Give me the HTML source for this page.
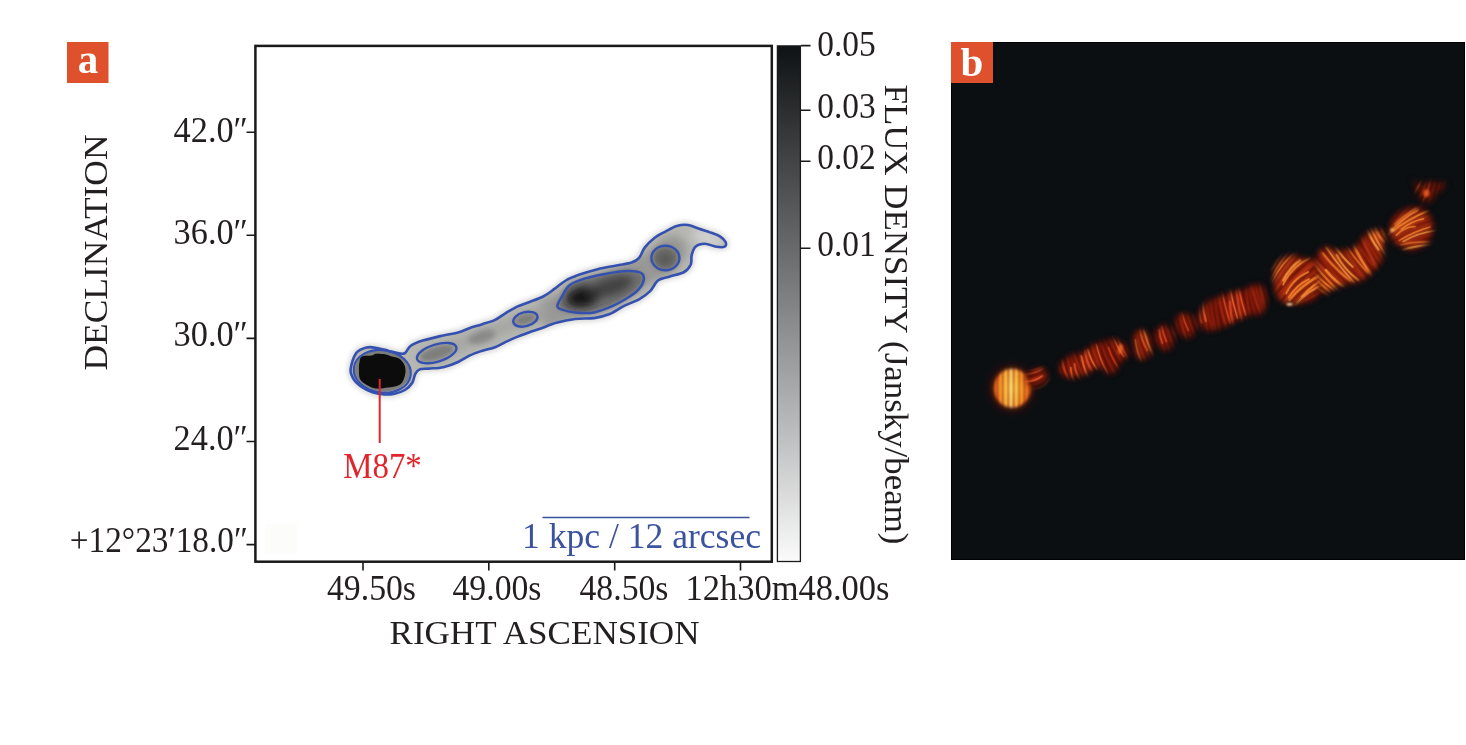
<!DOCTYPE html>
<html lang="en"><head><meta charset="utf-8"><title>M87 jet: flux density map and polarization image</title>
<style>html,body{margin:0;padding:0;background:#fff}body{width:1466px;height:745px;overflow:hidden}svg{display:block}</style>
</head><body>
<svg width="1466" height="745" viewBox="0 0 1466 745">
<defs>
<filter id="b1" x="-20%" y="-20%" width="140%" height="140%"><feGaussianBlur stdDeviation="1.2"/></filter>
<filter id="b2" x="-20%" y="-20%" width="140%" height="140%"><feGaussianBlur stdDeviation="2.5"/></filter>
<filter id="b3" x="-30%" y="-30%" width="160%" height="160%"><feGaussianBlur stdDeviation="4"/></filter>
<filter id="b5" x="-30%" y="-30%" width="160%" height="160%"><feGaussianBlur stdDeviation="6"/></filter>
<filter id="j1" x="-30%" y="-30%" width="160%" height="160%"><feGaussianBlur stdDeviation="0.8"/></filter>
<filter id="j06" x="-30%" y="-30%" width="160%" height="160%"><feGaussianBlur stdDeviation="0.55"/></filter>
<filter id="j15" x="-30%" y="-30%" width="160%" height="160%"><feGaussianBlur stdDeviation="1.1"/></filter>
<filter id="j25" x="-30%" y="-30%" width="160%" height="160%"><feGaussianBlur stdDeviation="3.0"/></filter>
<filter id="j2" x="-30%" y="-30%" width="160%" height="160%"><feGaussianBlur stdDeviation="1.6"/></filter>
<filter id="j3" x="-30%" y="-30%" width="160%" height="160%"><feGaussianBlur stdDeviation="3"/></filter>
<filter id="j5" x="-40%" y="-40%" width="180%" height="180%"><feGaussianBlur stdDeviation="5"/></filter>
<linearGradient id="cb" x1="0" y1="0" x2="0" y2="1"><stop offset="0" stop-color="#0f1214"/><stop offset="0.4" stop-color="#6a6b6c"/><stop offset="0.75" stop-color="#bcbdbe"/><stop offset="1" stop-color="#fbfbfb"/></linearGradient>
<radialGradient id="core" cx="0.5" cy="0.5" r="0.5"><stop offset="0" stop-color="#ffe060"/><stop offset="0.35" stop-color="#f79a1c"/><stop offset="0.7" stop-color="#e2601a"/><stop offset="1" stop-color="#b8300f"/></radialGradient>
<radialGradient id="coreg" cx="0.5" cy="0.5" r="0.5"><stop offset="0" stop-color="#ffc640"/><stop offset="0.35" stop-color="#f48c20"/><stop offset="0.7" stop-color="#d8501a"/><stop offset="1" stop-color="#8c200c"/></radialGradient>
<mask id="mc" maskUnits="userSpaceOnUse" x="980" y="355" width="66" height="66"><ellipse cx="1012.2" cy="388.3" rx="18.5" ry="19.5" fill="#fff" filter="url(#j2)"/></mask>
<mask id="mj0" maskUnits="userSpaceOnUse" x="1017" y="358" width="40" height="37"><path d="M1045.9 373.4C1046.3 374.5 1047.0 375.9 1046.7 377.4C1046.4 378.8 1045.4 380.7 1044.1 382.0C1042.8 383.3 1040.5 384.4 1038.8 385.0C1037.0 385.6 1035.3 385.8 1033.7 385.5C1032.1 385.3 1030.4 383.9 1029.4 383.3C1028.4 382.6 1028.0 382.8 1027.6 381.6C1027.1 380.4 1026.3 377.4 1026.8 376.1C1027.2 374.7 1029.0 374.7 1030.3 373.7C1031.6 372.6 1032.8 370.7 1034.4 369.8C1036.1 368.9 1038.6 368.2 1040.3 368.3C1042.0 368.4 1043.5 369.5 1044.5 370.4C1045.4 371.2 1045.5 372.2 1045.9 373.4Z" fill="#fff" filter="url(#j25)"/></mask>
<mask id="mj1" maskUnits="userSpaceOnUse" x="1050" y="330" width="89" height="57"><path d="M1059.6 371.7C1058.6 369.2 1060.8 364.5 1063.0 361.8C1065.2 359.1 1069.3 356.9 1072.8 355.4C1076.2 354.0 1080.7 354.6 1083.8 353.1C1086.9 351.6 1088.5 348.0 1091.5 346.3C1094.4 344.6 1098.0 344.0 1101.4 343.0C1104.9 342.0 1108.5 340.0 1112.0 340.2C1115.5 340.3 1119.8 342.1 1122.5 344.0C1125.2 345.8 1127.9 349.1 1128.2 351.4C1128.6 353.8 1126.4 356.1 1124.7 358.0C1123.0 359.9 1119.6 360.8 1118.3 362.8C1117.0 364.7 1118.3 367.8 1116.8 369.6C1115.3 371.4 1111.7 373.9 1109.4 373.5C1107.1 373.2 1105.2 368.6 1103.0 367.5C1100.8 366.4 1098.8 366.1 1096.2 367.0C1093.7 367.9 1090.6 371.5 1087.4 373.0C1084.2 374.5 1080.1 375.5 1077.0 376.2C1073.9 376.8 1071.7 377.6 1068.8 376.9C1066.0 376.2 1060.6 374.2 1059.6 371.7Z" fill="#fff" filter="url(#j25)"/></mask>
<mask id="mj2" maskUnits="userSpaceOnUse" x="1123" y="321" width="37" height="48"><path d="M1150.5 344.2C1150.8 346.7 1151.1 348.9 1150.8 350.8C1150.5 352.6 1149.7 354.2 1148.7 355.4C1147.7 356.7 1146.3 357.9 1144.7 358.5C1143.1 359.0 1140.7 359.5 1139.2 358.6C1137.7 357.7 1136.4 355.2 1135.6 353.2C1134.8 351.2 1134.8 348.8 1134.5 346.4C1134.1 344.0 1133.2 341.0 1133.4 338.9C1133.7 336.8 1135.2 335.1 1136.1 333.7C1137.0 332.3 1137.6 331.0 1138.9 330.6C1140.2 330.2 1142.1 330.2 1143.7 331.1C1145.4 332.1 1147.7 334.2 1148.8 336.4C1150.0 338.6 1150.1 341.8 1150.5 344.2Z" fill="#fff" filter="url(#j25)"/></mask>
<mask id="mj3" maskUnits="userSpaceOnUse" x="1145" y="315" width="38" height="45"><path d="M1173.6 335.7C1173.8 337.5 1172.7 339.7 1172.4 341.6C1172.0 343.4 1172.4 345.4 1171.3 346.8C1170.3 348.3 1167.5 349.8 1166.1 350.2C1164.8 350.6 1164.6 350.4 1163.2 349.4C1161.8 348.3 1159.1 345.7 1157.8 344.0C1156.5 342.4 1155.8 341.4 1155.5 339.4C1155.2 337.4 1155.5 333.6 1156.1 331.9C1156.6 330.1 1157.5 329.9 1158.8 328.7C1160.0 327.5 1162.3 325.2 1163.6 324.9C1164.9 324.7 1165.4 326.3 1166.7 327.2C1168.0 328.1 1170.3 329.1 1171.5 330.5C1172.6 331.9 1173.5 333.8 1173.6 335.7Z" fill="#fff" filter="url(#j25)"/></mask>
<mask id="mj4" maskUnits="userSpaceOnUse" x="1166" y="305" width="39" height="43"><path d="M1194.6 324.1C1195.1 326.0 1194.7 327.4 1194.4 329.2C1194.1 331.1 1193.8 333.8 1192.7 335.1C1191.6 336.5 1189.3 337.1 1187.9 337.2C1186.4 337.4 1185.4 337.1 1183.9 336.2C1182.5 335.4 1180.5 333.8 1179.1 332.1C1177.8 330.5 1176.5 328.0 1176.0 326.3C1175.5 324.5 1175.5 323.5 1176.0 321.7C1176.5 319.9 1177.7 316.8 1178.8 315.6C1179.8 314.4 1180.8 314.8 1182.5 314.6C1184.2 314.5 1187.4 314.4 1188.9 314.8C1190.5 315.3 1190.8 315.8 1191.8 317.4C1192.7 318.9 1194.2 322.1 1194.6 324.1Z" fill="#fff" filter="url(#j25)"/></mask>
<mask id="mj5" maskUnits="userSpaceOnUse" x="1188" y="275" width="88" height="65"><path d="M1198.2 318.1C1198.8 315.0 1201.6 309.4 1203.8 306.4C1206.1 303.4 1208.9 301.8 1212.0 300.2C1215.0 298.6 1218.6 298.0 1221.9 296.7C1225.3 295.5 1228.6 293.7 1232.1 292.7C1235.7 291.7 1240.4 291.6 1243.1 290.8C1245.8 290.1 1246.1 289.1 1248.3 288.2C1250.4 287.3 1253.6 285.5 1256.0 285.4C1258.4 285.2 1260.9 285.2 1262.5 287.2C1264.2 289.2 1265.8 293.7 1266.1 297.3C1266.4 300.9 1265.4 306.0 1264.2 308.7C1262.9 311.5 1261.0 313.0 1258.6 313.9C1256.1 314.8 1251.9 313.5 1249.3 314.0C1246.8 314.6 1245.8 316.1 1243.4 317.2C1240.9 318.3 1237.5 319.5 1234.7 320.7C1231.8 322.0 1229.4 323.7 1226.5 325.0C1223.6 326.3 1220.5 327.8 1217.4 328.6C1214.4 329.5 1211.1 330.5 1208.2 330.0C1205.3 329.4 1201.8 327.3 1200.2 325.3C1198.5 323.3 1197.6 321.3 1198.2 318.1Z" fill="#fff" filter="url(#j25)"/></mask>
<mask id="mj6" maskUnits="userSpaceOnUse" x="1264" y="247" width="66" height="66"><path d="M1274.4 271.3C1275.0 267.5 1276.6 264.7 1279.0 262.3C1281.3 259.9 1285.7 257.7 1288.4 256.8C1291.1 255.9 1292.3 256.2 1295.1 256.7C1297.8 257.1 1302.0 259.1 1304.8 259.6C1307.6 260.1 1309.7 259.0 1311.7 259.8C1313.7 260.7 1315.4 261.7 1316.8 264.5C1318.1 267.4 1319.2 272.9 1319.9 276.8C1320.5 280.8 1321.4 284.9 1320.7 288.3C1320.0 291.8 1318.3 295.3 1315.7 297.6C1313.0 299.9 1309.5 301.4 1304.8 302.2C1300.2 303.0 1292.0 303.3 1287.5 302.4C1283.1 301.5 1280.2 299.7 1278.2 296.9C1276.1 294.0 1276.0 289.5 1275.3 285.2C1274.7 281.0 1273.7 275.2 1274.4 271.3Z" fill="#fff" filter="url(#j25)"/></mask>
<mask id="mj7" maskUnits="userSpaceOnUse" x="1307" y="220" width="87" height="83"><path d="M1316.7 260.9C1317.4 255.9 1320.8 250.6 1322.8 248.6C1324.9 246.5 1326.7 248.2 1328.8 248.6C1331.0 249.1 1332.6 250.7 1335.6 251.1C1338.7 251.4 1343.8 251.1 1347.2 250.6C1350.5 250.1 1353.5 249.9 1355.8 248.2C1358.1 246.6 1358.8 243.4 1361.0 240.9C1363.3 238.4 1366.1 234.8 1369.3 233.0C1372.5 231.2 1377.8 229.8 1380.2 230.2C1382.7 230.6 1383.7 232.1 1384.1 235.2C1384.5 238.4 1383.1 244.7 1382.5 249.0C1381.9 253.4 1381.9 258.0 1380.3 261.5C1378.7 265.0 1375.9 267.2 1372.7 270.2C1369.5 273.2 1365.6 277.6 1361.3 279.7C1357.0 281.8 1352.0 281.2 1347.1 282.8C1342.1 284.4 1335.7 287.5 1331.5 289.1C1327.4 290.8 1324.3 294.6 1322.3 292.8C1320.2 291.1 1319.8 283.9 1318.9 278.5C1318.0 273.2 1316.1 265.9 1316.7 260.9Z" fill="#fff" filter="url(#j25)"/></mask>
<mask id="mj8" maskUnits="userSpaceOnUse" x="1381" y="198" width="61" height="62"><path d="M1390.5 229.1C1390.7 225.9 1391.3 222.3 1393.1 219.4C1394.9 216.5 1398.1 213.7 1401.6 211.8C1405.0 209.9 1410.1 208.2 1413.9 208.1C1417.7 207.9 1421.7 208.8 1424.6 211.0C1427.6 213.2 1430.3 217.8 1431.5 221.1C1432.7 224.4 1432.5 227.6 1431.9 230.9C1431.4 234.2 1430.0 238.4 1428.1 241.1C1426.2 243.8 1423.6 245.7 1420.6 247.2C1417.5 248.7 1413.3 250.5 1409.9 250.1C1406.5 249.7 1403.1 246.8 1400.1 244.9C1397.2 243.0 1393.9 241.3 1392.3 238.6C1390.7 236.0 1390.4 232.3 1390.5 229.1Z" fill="#fff" filter="url(#j25)"/></mask>
<mask id="mj9" maskUnits="userSpaceOnUse" x="1403" y="170" width="54" height="42"><path d="M1412.6 180.1C1412.7 179.1 1416.0 183.6 1418.0 184.4C1420.0 185.1 1422.8 184.7 1424.6 184.5C1426.4 184.2 1426.6 182.9 1428.9 182.8C1431.2 182.6 1435.6 183.2 1438.5 183.4C1441.5 183.6 1446.1 182.9 1446.5 183.9C1447.0 184.8 1443.3 187.4 1441.4 189.1C1439.5 190.8 1437.0 192.1 1435.4 194.0C1433.8 195.9 1433.1 199.2 1431.6 200.5C1430.1 201.9 1428.3 202.8 1426.4 202.3C1424.6 201.7 1422.0 199.6 1420.5 197.5C1418.9 195.4 1418.4 192.8 1417.1 189.9C1415.8 187.0 1412.4 181.0 1412.6 180.1Z" fill="#fff" filter="url(#j25)"/></mask><clipPath id="pb"><rect x="951" y="42" width="514" height="518"/></clipPath>
<clipPath id="oc"><path d="M350.6 369.4C351.0 365.0 353.5 356.8 356.2 353.1C358.9 349.5 363.2 348.4 366.6 347.5C370.1 346.6 373.2 347.4 376.9 348.0C380.6 348.6 385.0 350.0 388.7 350.9C392.4 351.8 396.3 353.0 399.0 353.4C401.7 353.8 402.9 354.4 404.9 353.1C406.9 351.8 407.8 347.9 410.8 345.8C413.8 343.7 417.3 342.3 422.7 340.6C428.1 338.9 437.4 336.8 443.3 335.4C449.2 334.0 453.7 333.7 458.1 332.5C462.5 331.3 466.0 329.4 469.9 328.0C473.8 326.6 477.5 325.8 481.7 324.4C485.9 323.0 491.1 321.8 495.0 319.9C498.9 318.0 501.6 315.5 505.3 313.3C509.0 311.1 513.2 308.5 517.1 306.6C521.0 304.8 524.5 303.9 528.9 302.2C533.2 300.5 538.9 298.7 543.2 296.5C547.5 294.3 550.7 291.6 554.5 288.9C558.3 286.2 561.7 282.9 565.8 280.5C569.9 278.1 573.6 276.7 578.9 274.8C584.2 272.9 591.4 270.8 597.7 269.2C604.0 267.6 610.9 266.6 616.5 265.5C622.1 264.4 627.8 263.9 631.6 262.6C635.4 261.3 636.9 260.4 639.1 257.9C641.3 255.4 642.2 250.9 644.7 247.6C647.2 244.3 650.7 240.9 654.1 238.2C657.5 235.5 661.6 233.6 665.4 231.6C669.2 229.6 672.9 227.1 676.7 226.0C680.5 224.9 684.2 224.5 688.0 225.0C691.8 225.5 695.5 227.5 699.2 228.8C703.0 230.1 707.0 231.3 710.5 232.6C714.0 233.8 717.4 234.7 719.9 236.3C722.4 237.9 724.8 240.3 725.6 242.0C726.4 243.7 726.2 245.9 724.6 246.7C723.0 247.5 719.5 247.2 716.2 246.7C712.9 246.2 708.4 243.8 704.9 243.8C701.4 243.8 697.7 244.8 695.5 246.7C693.3 248.6 692.5 252.1 691.7 255.1C690.9 258.1 692.0 261.7 690.8 264.5C689.5 267.3 687.8 270.0 684.2 272.0C680.6 274.0 673.6 275.3 669.2 276.7C664.8 278.1 661.0 278.1 657.9 280.5C654.8 282.9 653.5 287.7 650.4 290.8C647.3 293.9 643.5 296.8 639.1 299.3C634.7 301.8 629.1 303.4 624.1 305.9C619.1 308.4 614.0 312.3 609.0 314.3C604.0 316.3 599.6 317.3 594.0 318.1C588.4 318.9 581.5 318.2 575.2 319.0C568.9 319.8 562.3 321.2 556.4 322.8C550.5 324.4 544.6 327.2 540.0 328.8C535.4 330.4 532.7 331.1 528.9 332.5C525.1 333.9 521.0 335.3 517.1 336.9C513.2 338.5 509.0 340.4 505.3 342.1C501.6 343.8 498.9 345.7 495.0 347.2C491.1 348.7 485.9 349.5 481.7 350.9C477.5 352.3 473.8 353.5 469.9 355.4C466.0 357.2 462.5 360.0 458.1 362.0C453.7 364.0 448.2 366.1 443.3 367.2C438.4 368.3 432.5 368.2 428.6 368.6C424.7 369.0 421.9 368.5 419.7 369.4C417.5 370.3 416.5 371.6 415.3 373.8C414.1 376.0 414.0 380.0 412.3 382.7C410.6 385.4 407.8 388.2 404.9 390.0C401.9 391.8 398.0 392.9 394.6 393.7C391.2 394.4 388.0 394.7 384.3 394.5C380.6 394.3 376.2 393.5 372.5 392.3C368.8 391.1 365.2 389.2 362.1 387.1C359.0 385.0 355.9 382.6 354.0 379.7C352.1 376.8 350.2 373.8 350.6 369.4Z"/></clipPath>
<clipPath id="pa"><rect x="256" y="46" width="515" height="515"/></clipPath>
</defs>
<rect width="1466" height="745" fill="#fff"/>
<rect x="265" y="524" width="32" height="30" fill="#fcfcfb"/>
<g clip-path="url(#pa)">
<path d="M350.6 369.4C351.0 365.0 353.5 356.8 356.2 353.1C358.9 349.5 363.2 348.4 366.6 347.5C370.1 346.6 373.2 347.4 376.9 348.0C380.6 348.6 385.0 350.0 388.7 350.9C392.4 351.8 396.3 353.0 399.0 353.4C401.7 353.8 402.9 354.4 404.9 353.1C406.9 351.8 407.8 347.9 410.8 345.8C413.8 343.7 417.3 342.3 422.7 340.6C428.1 338.9 437.4 336.8 443.3 335.4C449.2 334.0 453.7 333.7 458.1 332.5C462.5 331.3 466.0 329.4 469.9 328.0C473.8 326.6 477.5 325.8 481.7 324.4C485.9 323.0 491.1 321.8 495.0 319.9C498.9 318.0 501.6 315.5 505.3 313.3C509.0 311.1 513.2 308.5 517.1 306.6C521.0 304.8 524.5 303.9 528.9 302.2C533.2 300.5 538.9 298.7 543.2 296.5C547.5 294.3 550.7 291.6 554.5 288.9C558.3 286.2 561.7 282.9 565.8 280.5C569.9 278.1 573.6 276.7 578.9 274.8C584.2 272.9 591.4 270.8 597.7 269.2C604.0 267.6 610.9 266.6 616.5 265.5C622.1 264.4 627.8 263.9 631.6 262.6C635.4 261.3 636.9 260.4 639.1 257.9C641.3 255.4 642.2 250.9 644.7 247.6C647.2 244.3 650.7 240.9 654.1 238.2C657.5 235.5 661.6 233.6 665.4 231.6C669.2 229.6 672.9 227.1 676.7 226.0C680.5 224.9 684.2 224.5 688.0 225.0C691.8 225.5 695.5 227.5 699.2 228.8C703.0 230.1 707.0 231.3 710.5 232.6C714.0 233.8 717.4 234.7 719.9 236.3C722.4 237.9 724.8 240.3 725.6 242.0C726.4 243.7 726.2 245.9 724.6 246.7C723.0 247.5 719.5 247.2 716.2 246.7C712.9 246.2 708.4 243.8 704.9 243.8C701.4 243.8 697.7 244.8 695.5 246.7C693.3 248.6 692.5 252.1 691.7 255.1C690.9 258.1 692.0 261.7 690.8 264.5C689.5 267.3 687.8 270.0 684.2 272.0C680.6 274.0 673.6 275.3 669.2 276.7C664.8 278.1 661.0 278.1 657.9 280.5C654.8 282.9 653.5 287.7 650.4 290.8C647.3 293.9 643.5 296.8 639.1 299.3C634.7 301.8 629.1 303.4 624.1 305.9C619.1 308.4 614.0 312.3 609.0 314.3C604.0 316.3 599.6 317.3 594.0 318.1C588.4 318.9 581.5 318.2 575.2 319.0C568.9 319.8 562.3 321.2 556.4 322.8C550.5 324.4 544.6 327.2 540.0 328.8C535.4 330.4 532.7 331.1 528.9 332.5C525.1 333.9 521.0 335.3 517.1 336.9C513.2 338.5 509.0 340.4 505.3 342.1C501.6 343.8 498.9 345.7 495.0 347.2C491.1 348.7 485.9 349.5 481.7 350.9C477.5 352.3 473.8 353.5 469.9 355.4C466.0 357.2 462.5 360.0 458.1 362.0C453.7 364.0 448.2 366.1 443.3 367.2C438.4 368.3 432.5 368.2 428.6 368.6C424.7 369.0 421.9 368.5 419.7 369.4C417.5 370.3 416.5 371.6 415.3 373.8C414.1 376.0 414.0 380.0 412.3 382.7C410.6 385.4 407.8 388.2 404.9 390.0C401.9 391.8 398.0 392.9 394.6 393.7C391.2 394.4 388.0 394.7 384.3 394.5C380.6 394.3 376.2 393.5 372.5 392.3C368.8 391.1 365.2 389.2 362.1 387.1C359.0 385.0 355.9 382.6 354.0 379.7C352.1 376.8 350.2 373.8 350.6 369.4Z" fill="#d4d4d2" stroke="#d4d4d2" stroke-width="7" filter="url(#b2)" opacity="0.85"/>
<path d="M350.6 369.4C351.0 365.0 353.5 356.8 356.2 353.1C358.9 349.5 363.2 348.4 366.6 347.5C370.1 346.6 373.2 347.4 376.9 348.0C380.6 348.6 385.0 350.0 388.7 350.9C392.4 351.8 396.3 353.0 399.0 353.4C401.7 353.8 402.9 354.4 404.9 353.1C406.9 351.8 407.8 347.9 410.8 345.8C413.8 343.7 417.3 342.3 422.7 340.6C428.1 338.9 437.4 336.8 443.3 335.4C449.2 334.0 453.7 333.7 458.1 332.5C462.5 331.3 466.0 329.4 469.9 328.0C473.8 326.6 477.5 325.8 481.7 324.4C485.9 323.0 491.1 321.8 495.0 319.9C498.9 318.0 501.6 315.5 505.3 313.3C509.0 311.1 513.2 308.5 517.1 306.6C521.0 304.8 524.5 303.9 528.9 302.2C533.2 300.5 538.9 298.7 543.2 296.5C547.5 294.3 550.7 291.6 554.5 288.9C558.3 286.2 561.7 282.9 565.8 280.5C569.9 278.1 573.6 276.7 578.9 274.8C584.2 272.9 591.4 270.8 597.7 269.2C604.0 267.6 610.9 266.6 616.5 265.5C622.1 264.4 627.8 263.9 631.6 262.6C635.4 261.3 636.9 260.4 639.1 257.9C641.3 255.4 642.2 250.9 644.7 247.6C647.2 244.3 650.7 240.9 654.1 238.2C657.5 235.5 661.6 233.6 665.4 231.6C669.2 229.6 672.9 227.1 676.7 226.0C680.5 224.9 684.2 224.5 688.0 225.0C691.8 225.5 695.5 227.5 699.2 228.8C703.0 230.1 707.0 231.3 710.5 232.6C714.0 233.8 717.4 234.7 719.9 236.3C722.4 237.9 724.8 240.3 725.6 242.0C726.4 243.7 726.2 245.9 724.6 246.7C723.0 247.5 719.5 247.2 716.2 246.7C712.9 246.2 708.4 243.8 704.9 243.8C701.4 243.8 697.7 244.8 695.5 246.7C693.3 248.6 692.5 252.1 691.7 255.1C690.9 258.1 692.0 261.7 690.8 264.5C689.5 267.3 687.8 270.0 684.2 272.0C680.6 274.0 673.6 275.3 669.2 276.7C664.8 278.1 661.0 278.1 657.9 280.5C654.8 282.9 653.5 287.7 650.4 290.8C647.3 293.9 643.5 296.8 639.1 299.3C634.7 301.8 629.1 303.4 624.1 305.9C619.1 308.4 614.0 312.3 609.0 314.3C604.0 316.3 599.6 317.3 594.0 318.1C588.4 318.9 581.5 318.2 575.2 319.0C568.9 319.8 562.3 321.2 556.4 322.8C550.5 324.4 544.6 327.2 540.0 328.8C535.4 330.4 532.7 331.1 528.9 332.5C525.1 333.9 521.0 335.3 517.1 336.9C513.2 338.5 509.0 340.4 505.3 342.1C501.6 343.8 498.9 345.7 495.0 347.2C491.1 348.7 485.9 349.5 481.7 350.9C477.5 352.3 473.8 353.5 469.9 355.4C466.0 357.2 462.5 360.0 458.1 362.0C453.7 364.0 448.2 366.1 443.3 367.2C438.4 368.3 432.5 368.2 428.6 368.6C424.7 369.0 421.9 368.5 419.7 369.4C417.5 370.3 416.5 371.6 415.3 373.8C414.1 376.0 414.0 380.0 412.3 382.7C410.6 385.4 407.8 388.2 404.9 390.0C401.9 391.8 398.0 392.9 394.6 393.7C391.2 394.4 388.0 394.7 384.3 394.5C380.6 394.3 376.2 393.5 372.5 392.3C368.8 391.1 365.2 389.2 362.1 387.1C359.0 385.0 355.9 382.6 354.0 379.7C352.1 376.8 350.2 373.8 350.6 369.4Z" fill="#b7b7b3"/>
<g clip-path="url(#oc)">
<g filter="url(#b3)">
<path d="M552 312L600 292L660 262L672 250" stroke="#8e8e8c" stroke-width="30" stroke-linecap="round" stroke-linejoin="round" fill="none" opacity="0.75"/>
<path d="M425 358L540 313" stroke="#a2a2a0" stroke-width="14" stroke-linecap="round" fill="none" opacity="0.8"/>
<ellipse cx="708" cy="238" rx="16" ry="9" transform="rotate(20 708 238)" fill="#d2d2d0" opacity="0.9"/>
</g>
<g filter="url(#b2)">
<ellipse cx="436.7" cy="353.1" rx="18.5" ry="7" transform="rotate(-17 436.7 353.1)" fill="#7e7e7c"/>
<ellipse cx="481.7" cy="336.9" rx="14" ry="6" transform="rotate(-17 481.7 336.9)" fill="#8a8a88"/>
<ellipse cx="525.4" cy="319.2" rx="11.5" ry="6" transform="rotate(-15 525.4 319.2)" fill="#7e7e7c"/>
<path d="M557.3 305.9C557.3 303.7 560.0 299.9 562.0 296.5C564.0 293.1 565.7 288.2 569.5 285.2C573.3 282.2 578.6 280.5 584.6 278.6C590.6 276.7 598.1 275.1 605.3 273.9C612.5 272.6 621.8 271.2 627.8 271.1C633.8 271.0 638.3 271.6 641.0 273.0C643.7 274.4 644.1 276.9 643.8 279.5C643.5 282.1 641.5 286.1 639.1 288.9C636.8 291.7 634.1 293.7 629.7 296.5C625.3 299.3 618.8 303.2 612.8 305.9C606.8 308.5 600.3 311.3 594.0 312.4C587.7 313.5 580.5 312.9 575.2 312.4C569.9 311.9 565.0 310.7 562.0 309.6C559.0 308.5 557.3 308.1 557.3 305.9Z" fill="#707070"/>
<ellipse cx="665.4" cy="258" rx="13" ry="11.5" fill="#6e6e6c"/>
</g>
<g filter="url(#b3)">
<ellipse cx="583" cy="297" rx="17" ry="10" transform="rotate(-12 583 297)" fill="#161616"/>
<ellipse cx="610" cy="287" rx="24" ry="8.5" transform="rotate(-18 610 287)" fill="#383838" opacity="0.85"/>
<ellipse cx="665" cy="259" rx="8" ry="7" fill="#505050" opacity="0.7"/>
</g>
</g>
<ellipse cx="382.5" cy="370.8" rx="27.5" ry="20.5" transform="rotate(8 382.5 370.8)" fill="#7c7c7a"/>
<ellipse cx="382.3" cy="371.3" rx="28.6" ry="21.2" transform="rotate(8 382.3 371.3)" fill="none" stroke="#3551b0" stroke-width="2.2"/>
<path d="M359.5 362.0C360.0 359.8 359.9 357.6 362.0 356.5C364.1 355.4 369.7 355.9 372.0 355.5C374.3 355.1 373.8 354.0 376.0 353.8C378.2 353.6 382.3 353.8 385.0 354.2C387.7 354.6 389.7 355.8 392.0 356.5C394.3 357.2 397.0 357.2 399.0 358.5C401.0 359.8 402.9 361.8 404.0 364.0C405.1 366.2 405.7 369.2 405.5 372.0C405.3 374.8 404.2 378.8 403.0 381.0C401.8 383.2 400.5 384.4 398.0 385.5C395.5 386.6 391.7 387.0 388.0 387.5C384.3 388.0 379.7 389.0 376.0 388.5C372.3 388.0 368.7 386.1 366.0 384.5C363.3 382.9 361.2 381.4 360.0 379.0C358.8 376.6 359.1 372.8 359.0 370.0C358.9 367.2 359.0 364.2 359.5 362.0Z" fill="#0c0c0c"/>
<path d="M350.6 369.4C351.0 365.0 353.5 356.8 356.2 353.1C358.9 349.5 363.2 348.4 366.6 347.5C370.1 346.6 373.2 347.4 376.9 348.0C380.6 348.6 385.0 350.0 388.7 350.9C392.4 351.8 396.3 353.0 399.0 353.4C401.7 353.8 402.9 354.4 404.9 353.1C406.9 351.8 407.8 347.9 410.8 345.8C413.8 343.7 417.3 342.3 422.7 340.6C428.1 338.9 437.4 336.8 443.3 335.4C449.2 334.0 453.7 333.7 458.1 332.5C462.5 331.3 466.0 329.4 469.9 328.0C473.8 326.6 477.5 325.8 481.7 324.4C485.9 323.0 491.1 321.8 495.0 319.9C498.9 318.0 501.6 315.5 505.3 313.3C509.0 311.1 513.2 308.5 517.1 306.6C521.0 304.8 524.5 303.9 528.9 302.2C533.2 300.5 538.9 298.7 543.2 296.5C547.5 294.3 550.7 291.6 554.5 288.9C558.3 286.2 561.7 282.9 565.8 280.5C569.9 278.1 573.6 276.7 578.9 274.8C584.2 272.9 591.4 270.8 597.7 269.2C604.0 267.6 610.9 266.6 616.5 265.5C622.1 264.4 627.8 263.9 631.6 262.6C635.4 261.3 636.9 260.4 639.1 257.9C641.3 255.4 642.2 250.9 644.7 247.6C647.2 244.3 650.7 240.9 654.1 238.2C657.5 235.5 661.6 233.6 665.4 231.6C669.2 229.6 672.9 227.1 676.7 226.0C680.5 224.9 684.2 224.5 688.0 225.0C691.8 225.5 695.5 227.5 699.2 228.8C703.0 230.1 707.0 231.3 710.5 232.6C714.0 233.8 717.4 234.7 719.9 236.3C722.4 237.9 724.8 240.3 725.6 242.0C726.4 243.7 726.2 245.9 724.6 246.7C723.0 247.5 719.5 247.2 716.2 246.7C712.9 246.2 708.4 243.8 704.9 243.8C701.4 243.8 697.7 244.8 695.5 246.7C693.3 248.6 692.5 252.1 691.7 255.1C690.9 258.1 692.0 261.7 690.8 264.5C689.5 267.3 687.8 270.0 684.2 272.0C680.6 274.0 673.6 275.3 669.2 276.7C664.8 278.1 661.0 278.1 657.9 280.5C654.8 282.9 653.5 287.7 650.4 290.8C647.3 293.9 643.5 296.8 639.1 299.3C634.7 301.8 629.1 303.4 624.1 305.9C619.1 308.4 614.0 312.3 609.0 314.3C604.0 316.3 599.6 317.3 594.0 318.1C588.4 318.9 581.5 318.2 575.2 319.0C568.9 319.8 562.3 321.2 556.4 322.8C550.5 324.4 544.6 327.2 540.0 328.8C535.4 330.4 532.7 331.1 528.9 332.5C525.1 333.9 521.0 335.3 517.1 336.9C513.2 338.5 509.0 340.4 505.3 342.1C501.6 343.8 498.9 345.7 495.0 347.2C491.1 348.7 485.9 349.5 481.7 350.9C477.5 352.3 473.8 353.5 469.9 355.4C466.0 357.2 462.5 360.0 458.1 362.0C453.7 364.0 448.2 366.1 443.3 367.2C438.4 368.3 432.5 368.2 428.6 368.6C424.7 369.0 421.9 368.5 419.7 369.4C417.5 370.3 416.5 371.6 415.3 373.8C414.1 376.0 414.0 380.0 412.3 382.7C410.6 385.4 407.8 388.2 404.9 390.0C401.9 391.8 398.0 392.9 394.6 393.7C391.2 394.4 388.0 394.7 384.3 394.5C380.6 394.3 376.2 393.5 372.5 392.3C368.8 391.1 365.2 389.2 362.1 387.1C359.0 385.0 355.9 382.6 354.0 379.7C352.1 376.8 350.2 373.8 350.6 369.4Z" fill="none" stroke="#3551b0" stroke-width="2.6"/>
<path d="M557.3 305.9C557.3 303.7 560.0 299.9 562.0 296.5C564.0 293.1 565.7 288.2 569.5 285.2C573.3 282.2 578.6 280.5 584.6 278.6C590.6 276.7 598.1 275.1 605.3 273.9C612.5 272.6 621.8 271.2 627.8 271.1C633.8 271.0 638.3 271.6 641.0 273.0C643.7 274.4 644.1 276.9 643.8 279.5C643.5 282.1 641.5 286.1 639.1 288.9C636.8 291.7 634.1 293.7 629.7 296.5C625.3 299.3 618.8 303.2 612.8 305.9C606.8 308.5 600.3 311.3 594.0 312.4C587.7 313.5 580.5 312.9 575.2 312.4C569.9 311.9 565.0 310.7 562.0 309.6C559.0 308.5 557.3 308.1 557.3 305.9Z" fill="none" stroke="#3551b0" stroke-width="2.5"/>
<ellipse cx="436.7" cy="353.1" rx="20.5" ry="8.6" transform="rotate(-17 436.7 353.1)" fill="none" stroke="#3551b0" stroke-width="2.4"/>
<ellipse cx="525.4" cy="319.2" rx="12.4" ry="7" transform="rotate(-15 525.4 319.2)" fill="none" stroke="#3551b0" stroke-width="2.4"/>
<ellipse cx="665.4" cy="258" rx="14" ry="12.2" fill="none" stroke="#3551b0" stroke-width="2.4"/>
</g>
<line x1="379.7" y1="379" x2="379.7" y2="443" stroke="#e0252c" stroke-width="2"/>
<line x1="542.5" y1="517.5" x2="749.5" y2="517.5" stroke="#3b529f" stroke-width="1.6"/>
<rect x="255.4" y="45.9" width="516.4" height="515.8" fill="none" stroke="#1a1a1a" stroke-width="2.5"/>
<path d="M246.5 132.2H255M246.5 235.3H255M246.5 338.4H255M246.5 441.5H255M246.5 544.6H255M363.0 562V570.5M488.8 562V570.5M614.7 562V570.5M740.5 562V570.5" stroke="#1a1a1a" stroke-width="1.6" fill="none"/>
<rect x="777.4" y="45.9" width="23" height="515.6" fill="url(#cb)" stroke="#1a1a1a" stroke-width="1.3"/>
<path d="M801 45.6H810.5M801 110.2H810.5M801 161.3H810.5M801 248.3H810.5" stroke="#1a1a1a" stroke-width="1.6" fill="none"/>
<g font-family="'Liberation Serif', 'DejaVu Serif', serif">
<text x="173.6" y="141.6" font-size="34.8" fill="#231f20" text-anchor="start" textLength="74.3" lengthAdjust="spacingAndGlyphs">42.0″</text>
<text x="173.6" y="244.3" font-size="34.8" fill="#231f20" text-anchor="start" textLength="74.3" lengthAdjust="spacingAndGlyphs">36.0″</text>
<text x="173.6" y="345.8" font-size="34.8" fill="#231f20" text-anchor="start" textLength="74.3" lengthAdjust="spacingAndGlyphs">30.0″</text>
<text x="173.6" y="450.0" font-size="34.8" fill="#231f20" text-anchor="start" textLength="74.3" lengthAdjust="spacingAndGlyphs">24.0″</text>
<text x="69.8" y="551.6" font-size="34.8" fill="#231f20" text-anchor="start" textLength="178.0" lengthAdjust="spacingAndGlyphs">+12°23′18.0″</text>
<text x="327.0" y="600.0" font-size="34.8" fill="#231f20" text-anchor="start" textLength="89.0" lengthAdjust="spacingAndGlyphs">49.50s</text>
<text x="452.5" y="600.0" font-size="34.8" fill="#231f20" text-anchor="start" textLength="89.0" lengthAdjust="spacingAndGlyphs">49.00s</text>
<text x="579.5" y="600.0" font-size="34.8" fill="#231f20" text-anchor="start" textLength="89.0" lengthAdjust="spacingAndGlyphs">48.50s</text>
<text x="685.5" y="600.0" font-size="34.8" fill="#231f20" text-anchor="start" textLength="204.0" lengthAdjust="spacingAndGlyphs">12h30m48.00s</text>
<text x="389.5" y="643.5" font-size="34.5" fill="#231f20" text-anchor="start" textLength="310.0" lengthAdjust="spacingAndGlyphs">RIGHT ASCENSION</text>
<g transform="translate(107 370.5) rotate(-90)">
<text x="0.0" y="0.0" font-size="34.5" fill="#231f20" text-anchor="start" textLength="236.0" lengthAdjust="spacingAndGlyphs">DECLINATION</text>
</g>
<g transform="translate(884.5 84.5) rotate(90)">
<text x="0.0" y="0.0" font-size="34.5" fill="#231f20" text-anchor="start" textLength="460.0" lengthAdjust="spacingAndGlyphs">FLUX DENSITY (Jansky/beam)</text>
</g>
<text x="817.2" y="55.7" font-size="34.8" fill="#231f20" text-anchor="start" textLength="58.5" lengthAdjust="spacingAndGlyphs">0.05</text>
<text x="817.2" y="117.7" font-size="34.8" fill="#231f20" text-anchor="start" textLength="58.5" lengthAdjust="spacingAndGlyphs">0.03</text>
<text x="817.2" y="169.3" font-size="34.8" fill="#231f20" text-anchor="start" textLength="58.5" lengthAdjust="spacingAndGlyphs">0.02</text>
<text x="817.2" y="255.6" font-size="34.8" fill="#231f20" text-anchor="start" textLength="58.5" lengthAdjust="spacingAndGlyphs">0.01</text>
<text x="343.2" y="478.2" font-size="35.2" fill="#e0252c" text-anchor="start" textLength="78.6" lengthAdjust="spacingAndGlyphs">M87*</text>
<text x="522.0" y="547.8" font-size="34.8" fill="#3b529f" text-anchor="start" textLength="239.0" lengthAdjust="spacingAndGlyphs">1 kpc / 12 arcsec</text>
</g>
<rect x="67" y="42" width="41.5" height="41" fill="#df512c"/>
<g font-family="'Liberation Serif', 'DejaVu Serif', serif" font-weight="bold" fill="#fff">
<text x="88" y="73" font-size="41" text-anchor="middle">a</text>
</g>
<rect x="951" y="42" width="514" height="518" fill="#0b0f12"/>
<rect x="951.5" y="42.5" width="513" height="517" fill="none" stroke="#000" stroke-width="1"/>
<g clip-path="url(#pb)">
<ellipse cx="1012.2" cy="388.3" rx="20.0" ry="21.0" fill="#6a1808" filter="url(#j5)"/>
<g mask="url(#mc)"><rect x="980" y="355" width="66" height="66" fill="url(#coreg)"/>
<g filter="url(#j1)" fill="none"><path d="M989.8 362V416" stroke="#e8701e" stroke-width="2.4" opacity="0.9"/><path d="M992.4 362V416" stroke="#a82c0c" stroke-width="1.7" opacity="0.85"/><path d="M995.1 362V416" stroke="#e8701e" stroke-width="2.4" opacity="0.9"/><path d="M997.8 362V416" stroke="#a82c0c" stroke-width="1.7" opacity="0.85"/><path d="M1000.4 362V416" stroke="#f9a030" stroke-width="2.4" opacity="0.9"/><path d="M1003.0 362V416" stroke="#a82c0c" stroke-width="1.7" opacity="0.85"/><path d="M1005.7 362V416" stroke="#ffd050" stroke-width="2.4" opacity="0.9"/><path d="M1008.4 362V416" stroke="#a82c0c" stroke-width="1.7" opacity="0.85"/><path d="M1011.0 362V416" stroke="#fff08a" stroke-width="2.4" opacity="0.9"/><path d="M1013.6 362V416" stroke="#a82c0c" stroke-width="1.7" opacity="0.85"/><path d="M1016.3 362V416" stroke="#ffd050" stroke-width="2.4" opacity="0.9"/><path d="M1018.9 362V416" stroke="#a82c0c" stroke-width="1.7" opacity="0.85"/><path d="M1021.6 362V416" stroke="#f9a030" stroke-width="2.4" opacity="0.9"/><path d="M1024.2 362V416" stroke="#a82c0c" stroke-width="1.7" opacity="0.85"/><path d="M1026.9 362V416" stroke="#e8701e" stroke-width="2.4" opacity="0.9"/><path d="M1029.6 362V416" stroke="#a82c0c" stroke-width="1.7" opacity="0.85"/><path d="M1032.2 362V416" stroke="#e8701e" stroke-width="2.4" opacity="0.9"/><path d="M1034.9 362V416" stroke="#a82c0c" stroke-width="1.7" opacity="0.85"/></g></g>
<path d="M1045.9 373.4C1046.3 374.5 1047.0 375.9 1046.7 377.4C1046.4 378.8 1045.4 380.7 1044.1 382.0C1042.8 383.3 1040.5 384.4 1038.8 385.0C1037.0 385.6 1035.3 385.8 1033.7 385.5C1032.1 385.3 1030.4 383.9 1029.4 383.3C1028.4 382.6 1028.0 382.8 1027.6 381.6C1027.1 380.4 1026.3 377.4 1026.8 376.1C1027.2 374.7 1029.0 374.7 1030.3 373.7C1031.6 372.6 1032.8 370.7 1034.4 369.8C1036.1 368.9 1038.6 368.2 1040.3 368.3C1042.0 368.4 1043.5 369.5 1044.5 370.4C1045.4 371.2 1045.5 372.2 1045.9 373.4Z" fill="#4e0e06" filter="url(#j3)" opacity="0.6"/>
<g mask="url(#mj0)" opacity="0.95"><rect x="1017" y="358" width="40" height="37" fill="#520c05"/>
<g filter="url(#j1)" fill="none" stroke-linecap="round"><path d="M1019.2 371.3Q1034.3 370.9 1047.0 365.0" stroke="#c02a12" stroke-width="1.5" opacity="0.94"/><path d="M1020.6 375.1Q1035.6 374.1 1047.9 366.7" stroke="#d0361a" stroke-width="1.7" opacity="0.83"/><path d="M1022.5 379.7Q1037.7 379.3 1049.1 369.5" stroke="#c02a12" stroke-width="1.6" opacity="0.96"/><path d="M1023.6 382.4Q1038.2 380.5 1050.6 373.0" stroke="#d0361a" stroke-width="1.5" opacity="0.93"/><path d="M1025.6 387.2Q1040.0 384.8 1051.5 375.2" stroke="#c02a12" stroke-width="1.7" opacity="0.88"/><path d="M1027.5 391.7Q1042.5 390.8 1052.3 377.5" stroke="#d0361a" stroke-width="1.6" opacity="0.90"/></g>
<use href="#h0" filter="url(#j2)" opacity="0.75"/>
<g filter="url(#j06)" id="h0" fill="none" stroke-linecap="round"><path d="M1024.9 370.0Q1035.2 370.7 1043.3 365.8" stroke="#e44a24" stroke-width="1.5" opacity="0.80"/><path d="M1024.9 373.8Q1035.2 374.2 1043.0 368.2" stroke="#e44a24" stroke-width="1.7" opacity="0.91"/><path d="M1025.6 381.7Q1035.1 381.6 1042.3 375.9" stroke="#ee602e" stroke-width="1.5" opacity="0.89"/><path d="M1032.0 389.1Q1043.4 390.3 1049.7 379.0" stroke="#ee602e" stroke-width="1.6" opacity="0.92"/></g>
</g>
<path d="M1059.6 371.7C1058.6 369.2 1060.8 364.5 1063.0 361.8C1065.2 359.1 1069.3 356.9 1072.8 355.4C1076.2 354.0 1080.7 354.6 1083.8 353.1C1086.9 351.6 1088.5 348.0 1091.5 346.3C1094.4 344.6 1098.0 344.0 1101.4 343.0C1104.9 342.0 1108.5 340.0 1112.0 340.2C1115.5 340.3 1119.8 342.1 1122.5 344.0C1125.2 345.8 1127.9 349.1 1128.2 351.4C1128.6 353.8 1126.4 356.1 1124.7 358.0C1123.0 359.9 1119.6 360.8 1118.3 362.8C1117.0 364.7 1118.3 367.8 1116.8 369.6C1115.3 371.4 1111.7 373.9 1109.4 373.5C1107.1 373.2 1105.2 368.6 1103.0 367.5C1100.8 366.4 1098.8 366.1 1096.2 367.0C1093.7 367.9 1090.6 371.5 1087.4 373.0C1084.2 374.5 1080.1 375.5 1077.0 376.2C1073.9 376.8 1071.7 377.6 1068.8 376.9C1066.0 376.2 1060.6 374.2 1059.6 371.7Z" fill="#4e0e06" filter="url(#j3)" opacity="0.6"/>
<g mask="url(#mj1)" opacity="0.95"><rect x="1050" y="330" width="89" height="57" fill="#5c0e06"/>
<g filter="url(#j1)" fill="none" stroke-linecap="round"><path d="M1118.7 328.5Q1126.6 347.9 1138.3 365.5" stroke="#c02a12" stroke-width="1.9" opacity="0.72"/><path d="M1115.2 329.9Q1121.6 350.0 1132.5 368.1" stroke="#d0361a" stroke-width="1.7" opacity="0.82"/><path d="M1110.5 332.0Q1119.3 350.9 1130.2 369.0" stroke="#c02a12" stroke-width="1.4" opacity="0.75"/><path d="M1106.9 333.6Q1115.3 352.6 1126.8 370.4" stroke="#d0361a" stroke-width="1.7" opacity="0.74"/><path d="M1102.6 335.3Q1110.1 354.9 1120.9 373.0" stroke="#c02a12" stroke-width="1.5" opacity="0.73"/><path d="M1098.1 337.2Q1105.6 356.7 1115.5 375.3" stroke="#d0361a" stroke-width="1.8" opacity="0.71"/><path d="M1094.2 338.9Q1099.7 359.3 1109.4 377.9" stroke="#c02a12" stroke-width="1.6" opacity="0.81"/><path d="M1090.6 340.4Q1095.6 361.0 1105.7 379.5" stroke="#d0361a" stroke-width="2.0" opacity="0.94"/><path d="M1084.7 342.9Q1091.8 362.6 1102.4 380.8" stroke="#c02a12" stroke-width="1.7" opacity="0.71"/><path d="M1082.7 343.8Q1086.9 364.7 1096.3 383.4" stroke="#d0361a" stroke-width="2.1" opacity="0.81"/><path d="M1077.8 345.9Q1082.9 366.4 1091.4 385.5" stroke="#c02a12" stroke-width="1.9" opacity="0.94"/><path d="M1072.1 348.2Q1078.3 368.4 1088.9 386.6" stroke="#d0361a" stroke-width="1.7" opacity="0.94"/><path d="M1068.9 349.6Q1074.1 370.2 1084.1 388.6" stroke="#c02a12" stroke-width="1.9" opacity="0.75"/><path d="M1066.0 351.0Q1069.8 372.0 1077.5 391.3" stroke="#d0361a" stroke-width="1.7" opacity="0.86"/><path d="M1059.8 353.5Q1064.5 374.2 1073.9 392.9" stroke="#c02a12" stroke-width="2.0" opacity="0.76"/><path d="M1055.2 355.4Q1060.4 375.9 1070.5 394.4" stroke="#d0361a" stroke-width="1.7" opacity="0.84"/></g>
<use href="#h1" filter="url(#j2)" opacity="0.75"/>
<g filter="url(#j06)" id="h1" fill="none" stroke-linecap="round"><path d="M1116.1 331.7Q1119.7 345.8 1127.9 357.9" stroke="#e44a24" stroke-width="1.7" opacity="0.64"/><path d="M1112.4 335.7Q1117.0 346.5 1123.6 356.5" stroke="#ee602e" stroke-width="1.4" opacity="0.83"/><path d="M1108.5 347.5Q1111.6 358.0 1118.0 367.0" stroke="#e44a24" stroke-width="1.5" opacity="0.56"/><path d="M1096.2 344.1Q1099.8 359.6 1107.6 373.3" stroke="#ee602e" stroke-width="1.6" opacity="0.70"/><path d="M1087.8 349.6Q1090.7 360.4 1097.2 369.6" stroke="#ee602e" stroke-width="1.7" opacity="0.98"/><path d="M1085.1 350.6Q1085.9 361.7 1091.9 370.5" stroke="#e44a24" stroke-width="2.1" opacity="0.83"/><path d="M1081.3 355.9Q1084.3 370.5 1090.7 383.5" stroke="#ee602e" stroke-width="1.9" opacity="0.89"/><path d="M1074.5 363.9Q1075.6 374.1 1081.6 382.2" stroke="#ee602e" stroke-width="1.9" opacity="0.62"/><path d="M1070.8 367.7Q1071.1 376.7 1075.5 384.0" stroke="#ee602e" stroke-width="1.7" opacity="0.79"/><path d="M1062.2 360.2Q1063.6 371.7 1069.7 381.1" stroke="#e44a24" stroke-width="2.0" opacity="0.67"/></g>
</g>
<path d="M1150.5 344.2C1150.8 346.7 1151.1 348.9 1150.8 350.8C1150.5 352.6 1149.7 354.2 1148.7 355.4C1147.7 356.7 1146.3 357.9 1144.7 358.5C1143.1 359.0 1140.7 359.5 1139.2 358.6C1137.7 357.7 1136.4 355.2 1135.6 353.2C1134.8 351.2 1134.8 348.8 1134.5 346.4C1134.1 344.0 1133.2 341.0 1133.4 338.9C1133.7 336.8 1135.2 335.1 1136.1 333.7C1137.0 332.3 1137.6 331.0 1138.9 330.6C1140.2 330.2 1142.1 330.2 1143.7 331.1C1145.4 332.1 1147.7 334.2 1148.8 336.4C1150.0 338.6 1150.1 341.8 1150.5 344.2Z" fill="#4e0e06" filter="url(#j3)" opacity="0.6"/>
<g mask="url(#mj2)" opacity="0.97"><rect x="1123" y="321" width="37" height="48" fill="#5c0e06"/>
<g filter="url(#j1)" fill="none" stroke-linecap="round"><path d="M1145.9 323.8Q1151.0 341.6 1159.4 358.2" stroke="#c42c12" stroke-width="2.1" opacity="0.83"/><path d="M1141.9 325.2Q1147.0 343.0 1155.3 359.7" stroke="#d43a1a" stroke-width="1.8" opacity="0.86"/><path d="M1138.6 326.4Q1143.1 344.5 1151.3 361.1" stroke="#c42c12" stroke-width="2.0" opacity="0.74"/><path d="M1135.1 327.7Q1138.8 346.0 1146.2 363.0" stroke="#d43a1a" stroke-width="1.6" opacity="0.91"/><path d="M1132.1 328.8Q1135.3 347.3 1142.3 364.3" stroke="#c42c12" stroke-width="1.6" opacity="0.99"/><path d="M1127.5 330.5Q1132.2 348.4 1139.1 365.6" stroke="#d43a1a" stroke-width="1.6" opacity="0.80"/></g>
<use href="#h2" filter="url(#j2)" opacity="0.75"/>
<g filter="url(#j06)" id="h2" fill="none" stroke-linecap="round"><path d="M1143.8 330.0Q1147.7 344.7 1154.7 358.4" stroke="#f47c32" stroke-width="1.8" opacity="0.97"/><path d="M1139.8 329.7Q1141.7 340.8 1147.4 350.5" stroke="#ee6028" stroke-width="2.0" opacity="0.58"/><path d="M1135.3 339.9Q1136.5 351.6 1141.6 361.9" stroke="#f47c32" stroke-width="1.6" opacity="0.62"/></g>
</g>
<path d="M1173.6 335.7C1173.8 337.5 1172.7 339.7 1172.4 341.6C1172.0 343.4 1172.4 345.4 1171.3 346.8C1170.3 348.3 1167.5 349.8 1166.1 350.2C1164.8 350.6 1164.6 350.4 1163.2 349.4C1161.8 348.3 1159.1 345.7 1157.8 344.0C1156.5 342.4 1155.8 341.4 1155.5 339.4C1155.2 337.4 1155.5 333.6 1156.1 331.9C1156.6 330.1 1157.5 329.9 1158.8 328.7C1160.0 327.5 1162.3 325.2 1163.6 324.9C1164.9 324.7 1165.4 326.3 1166.7 327.2C1168.0 328.1 1170.3 329.1 1171.5 330.5C1172.6 331.9 1173.5 333.8 1173.6 335.7Z" fill="#4e0e06" filter="url(#j3)" opacity="0.6"/>
<g mask="url(#mj3)" opacity="0.95"><rect x="1145" y="315" width="38" height="45" fill="#5c0e06"/>
<g filter="url(#j1)" fill="none" stroke-linecap="round"><path d="M1169.3 319.0Q1174.6 334.7 1181.4 349.9" stroke="#c02a12" stroke-width="1.8" opacity="0.83"/><path d="M1164.5 320.4Q1168.5 336.4 1176.2 351.4" stroke="#d0361a" stroke-width="1.7" opacity="0.80"/><path d="M1160.1 321.6Q1164.3 337.6 1170.3 353.2" stroke="#c02a12" stroke-width="1.7" opacity="0.77"/><path d="M1157.4 322.4Q1160.1 338.8 1165.1 354.7" stroke="#d0361a" stroke-width="1.7" opacity="0.75"/><path d="M1151.9 323.9Q1155.5 340.2 1161.7 355.7" stroke="#c02a12" stroke-width="2.0" opacity="0.73"/></g>
<use href="#h3" filter="url(#j2)" opacity="0.75"/>
<g filter="url(#j06)" id="h3" fill="none" stroke-linecap="round"><path d="M1170.8 322.8Q1175.0 335.7 1180.7 348.2" stroke="#ee602e" stroke-width="1.8" opacity="0.59"/><path d="M1161.6 326.4Q1163.2 334.1 1166.5 341.3" stroke="#e44a24" stroke-width="1.7" opacity="0.69"/><path d="M1159.2 329.9Q1159.7 336.8 1162.3 343.1" stroke="#e44a24" stroke-width="1.7" opacity="0.88"/></g>
</g>
<path d="M1194.6 324.1C1195.1 326.0 1194.7 327.4 1194.4 329.2C1194.1 331.1 1193.8 333.8 1192.7 335.1C1191.6 336.5 1189.3 337.1 1187.9 337.2C1186.4 337.4 1185.4 337.1 1183.9 336.2C1182.5 335.4 1180.5 333.8 1179.1 332.1C1177.8 330.5 1176.5 328.0 1176.0 326.3C1175.5 324.5 1175.5 323.5 1176.0 321.7C1176.5 319.9 1177.7 316.8 1178.8 315.6C1179.8 314.4 1180.8 314.8 1182.5 314.6C1184.2 314.5 1187.4 314.4 1188.9 314.8C1190.5 315.3 1190.8 315.8 1191.8 317.4C1192.7 318.9 1194.2 322.1 1194.6 324.1Z" fill="#4e0e06" filter="url(#j3)" opacity="0.6"/>
<g mask="url(#mj4)" opacity="0.95"><rect x="1166" y="305" width="39" height="43" fill="#5c0e06"/>
<g filter="url(#j1)" fill="none" stroke-linecap="round"><path d="M1190.2 307.2Q1194.8 322.5 1202.0 336.9" stroke="#c02a12" stroke-width="1.5" opacity="0.83"/><path d="M1185.3 308.7Q1189.7 324.1 1196.5 338.7" stroke="#d0361a" stroke-width="1.4" opacity="0.81"/><path d="M1181.1 310.0Q1185.2 325.5 1192.1 340.1" stroke="#c02a12" stroke-width="1.4" opacity="0.78"/><path d="M1178.3 310.9Q1181.4 326.7 1187.3 341.6" stroke="#d0361a" stroke-width="1.8" opacity="0.90"/><path d="M1173.2 312.5Q1176.6 328.2 1182.4 343.2" stroke="#c02a12" stroke-width="2.0" opacity="0.74"/></g>
<use href="#h4" filter="url(#j2)" opacity="0.75"/>
<g filter="url(#j06)" id="h4" fill="none" stroke-linecap="round"><path d="M1192.6 313.2Q1196.2 326.0 1202.4 338.0" stroke="#e44a24" stroke-width="1.5" opacity="0.66"/><path d="M1182.1 312.9Q1184.0 322.0 1188.5 330.3" stroke="#e44a24" stroke-width="1.4" opacity="0.69"/></g>
</g>
<path d="M1198.2 318.1C1198.8 315.0 1201.6 309.4 1203.8 306.4C1206.1 303.4 1208.9 301.8 1212.0 300.2C1215.0 298.6 1218.6 298.0 1221.9 296.7C1225.3 295.5 1228.6 293.7 1232.1 292.7C1235.7 291.7 1240.4 291.6 1243.1 290.8C1245.8 290.1 1246.1 289.1 1248.3 288.2C1250.4 287.3 1253.6 285.5 1256.0 285.4C1258.4 285.2 1260.9 285.2 1262.5 287.2C1264.2 289.2 1265.8 293.7 1266.1 297.3C1266.4 300.9 1265.4 306.0 1264.2 308.7C1262.9 311.5 1261.0 313.0 1258.6 313.9C1256.1 314.8 1251.9 313.5 1249.3 314.0C1246.8 314.6 1245.8 316.1 1243.4 317.2C1240.9 318.3 1237.5 319.5 1234.7 320.7C1231.8 322.0 1229.4 323.7 1226.5 325.0C1223.6 326.3 1220.5 327.8 1217.4 328.6C1214.4 329.5 1211.1 330.5 1208.2 330.0C1205.3 329.4 1201.8 327.3 1200.2 325.3C1198.5 323.3 1197.6 321.3 1198.2 318.1Z" fill="#4e0e06" filter="url(#j3)" opacity="0.6"/>
<g mask="url(#mj5)" opacity="0.95"><rect x="1188" y="275" width="88" height="65" fill="#5c0e06"/>
<g filter="url(#j1)" fill="none" stroke-linecap="round"><path d="M1263.6 279.5Q1267.7 299.9 1273.8 319.9" stroke="#c02a12" stroke-width="1.9" opacity="0.99"/><path d="M1258.7 280.7Q1262.7 301.1 1270.0 320.8" stroke="#d0361a" stroke-width="2.0" opacity="0.89"/><path d="M1254.1 281.8Q1259.5 301.8 1267.1 321.4" stroke="#c02a12" stroke-width="2.0" opacity="0.79"/><path d="M1250.4 282.7Q1255.9 302.7 1263.6 322.2" stroke="#d0361a" stroke-width="1.9" opacity="0.91"/><path d="M1247.6 283.2Q1251.5 303.7 1258.1 323.5" stroke="#c02a12" stroke-width="1.8" opacity="0.74"/><path d="M1245.0 283.8Q1246.9 304.8 1252.6 324.8" stroke="#d0361a" stroke-width="1.5" opacity="0.84"/><path d="M1238.1 285.4Q1242.2 305.8 1248.4 325.8" stroke="#c02a12" stroke-width="1.6" opacity="0.98"/><path d="M1235.5 286.0Q1238.0 306.8 1243.4 326.9" stroke="#d0361a" stroke-width="2.0" opacity="0.91"/><path d="M1230.0 287.3Q1233.7 307.8 1239.8 327.8" stroke="#c02a12" stroke-width="1.5" opacity="0.80"/><path d="M1227.6 287.9Q1229.4 308.8 1234.5 328.9" stroke="#d0361a" stroke-width="2.1" opacity="0.79"/><path d="M1221.4 289.3Q1225.8 309.6 1231.7 329.6" stroke="#c02a12" stroke-width="1.5" opacity="0.95"/><path d="M1217.9 290.1Q1220.6 310.8 1227.4 330.6" stroke="#d0361a" stroke-width="2.0" opacity="0.94"/><path d="M1214.2 291.0Q1215.7 311.9 1220.2 332.2" stroke="#c02a12" stroke-width="1.9" opacity="0.71"/><path d="M1209.3 292.1Q1211.1 313.0 1216.1 333.2" stroke="#d0361a" stroke-width="1.6" opacity="0.71"/><path d="M1204.8 293.1Q1207.7 313.8 1212.9 333.9" stroke="#c02a12" stroke-width="1.6" opacity="0.92"/><path d="M1201.3 293.9Q1203.6 314.7 1208.2 335.0" stroke="#d0361a" stroke-width="1.8" opacity="0.82"/><path d="M1198.1 294.7Q1198.7 315.9 1203.3 336.1" stroke="#c02a12" stroke-width="1.8" opacity="0.74"/><path d="M1193.2 295.8Q1194.7 316.8 1200.0 336.9" stroke="#d0361a" stroke-width="2.0" opacity="0.82"/></g>
<use href="#h5" filter="url(#j2)" opacity="0.75"/>
<g filter="url(#j06)" id="h5" fill="none" stroke-linecap="round"><path d="M1239.0 288.6Q1241.3 302.2 1245.8 315.3" stroke="#e44a24" stroke-width="1.6" opacity="0.98"/><path d="M1236.2 289.9Q1238.0 306.6 1242.6 322.8" stroke="#e44a24" stroke-width="2.0" opacity="0.55"/><path d="M1229.8 286.7Q1232.5 302.7 1237.5 318.2" stroke="#ee602e" stroke-width="1.5" opacity="0.93"/><path d="M1229.9 301.7Q1230.2 313.9 1233.9 325.4" stroke="#e44a24" stroke-width="2.1" opacity="0.71"/><path d="M1221.7 290.3Q1225.1 307.1 1230.2 323.5" stroke="#e44a24" stroke-width="1.5" opacity="0.78"/><path d="M1202.6 301.8Q1203.1 311.7 1205.9 321.2" stroke="#ee602e" stroke-width="1.8" opacity="0.77"/><path d="M1199.4 304.7Q1198.5 314.2 1201.6 322.9" stroke="#e44a24" stroke-width="1.8" opacity="0.66"/></g>
</g>
<path d="M1274.4 271.3C1275.0 267.5 1276.6 264.7 1279.0 262.3C1281.3 259.9 1285.7 257.7 1288.4 256.8C1291.1 255.9 1292.3 256.2 1295.1 256.7C1297.8 257.1 1302.0 259.1 1304.8 259.6C1307.6 260.1 1309.7 259.0 1311.7 259.8C1313.7 260.7 1315.4 261.7 1316.8 264.5C1318.1 267.4 1319.2 272.9 1319.9 276.8C1320.5 280.8 1321.4 284.9 1320.7 288.3C1320.0 291.8 1318.3 295.3 1315.7 297.6C1313.0 299.9 1309.5 301.4 1304.8 302.2C1300.2 303.0 1292.0 303.3 1287.5 302.4C1283.1 301.5 1280.2 299.7 1278.2 296.9C1276.1 294.0 1276.0 289.5 1275.3 285.2C1274.7 281.0 1273.7 275.2 1274.4 271.3Z" fill="#5c1006" filter="url(#j3)" opacity="0.6"/>
<g mask="url(#mj6)" opacity="0.97"><rect x="1264" y="247" width="66" height="66" fill="#701408"/>
<g filter="url(#j1)" fill="none" stroke-linecap="round"><path d="M1260.8 283.5Q1277.9 255.6 1299.9 233.0" stroke="#cc3414" stroke-width="1.6" opacity="0.75"/><path d="M1265.0 287.7Q1280.3 258.2 1302.5 236.0" stroke="#dc481e" stroke-width="1.6" opacity="0.93"/><path d="M1266.2 289.4Q1282.5 260.6 1306.6 240.0" stroke="#cc3414" stroke-width="1.6" opacity="0.72"/><path d="M1269.0 292.3Q1285.6 263.9 1308.5 242.2" stroke="#dc481e" stroke-width="2.2" opacity="0.89"/><path d="M1271.3 295.0Q1289.3 267.8 1312.2 245.9" stroke="#cc3414" stroke-width="2.2" opacity="0.91"/><path d="M1271.8 295.9Q1289.9 268.4 1317.0 250.8" stroke="#dc481e" stroke-width="1.7" opacity="0.71"/><path d="M1274.7 299.0Q1295.4 274.4 1320.7 254.8" stroke="#cc3414" stroke-width="2.2" opacity="0.79"/><path d="M1277.5 302.0Q1296.3 275.4 1323.2 257.4" stroke="#dc481e" stroke-width="1.7" opacity="0.99"/><path d="M1280.4 305.1Q1301.1 280.5 1327.6 262.1" stroke="#cc3414" stroke-width="1.7" opacity="0.99"/><path d="M1281.4 305.8Q1302.7 282.2 1333.6 268.9" stroke="#dc481e" stroke-width="2.2" opacity="0.80"/><path d="M1284.6 309.2Q1307.6 287.5 1336.1 271.6" stroke="#cc3414" stroke-width="1.7" opacity="0.70"/><path d="M1286.7 311.3Q1308.7 288.7 1339.3 275.1" stroke="#dc481e" stroke-width="2.1" opacity="0.83"/><path d="M1287.7 311.3Q1314.0 294.3 1343.9 281.2" stroke="#cc3414" stroke-width="1.8" opacity="0.94"/></g>
<use href="#h6" filter="url(#j2)" opacity="0.75"/>
<g filter="url(#j06)" id="h6" fill="none" stroke-linecap="round"><path d="M1270.9 270.5Q1282.2 250.0 1298.5 234.8" stroke="#fa9c40" stroke-width="1.6" opacity="0.84"/><path d="M1269.8 281.0Q1281.7 256.3 1300.4 238.9" stroke="#f4822e" stroke-width="1.6" opacity="0.61"/><path d="M1271.9 282.5Q1281.4 262.0 1298.7 249.7" stroke="#f4822e" stroke-width="1.6" opacity="0.82"/><path d="M1283.3 280.5Q1289.2 267.8 1300.1 260.4" stroke="#fa9c40" stroke-width="2.2" opacity="0.74"/><path d="M1283.2 284.5Q1291.9 266.4 1309.8 258.0" stroke="#f4822e" stroke-width="1.7" opacity="0.91"/><path d="M1286.2 293.6Q1293.2 278.5 1308.3 272.0" stroke="#f4822e" stroke-width="1.7" opacity="0.85"/><path d="M1288.8 297.4Q1295.9 285.2 1308.8 279.2" stroke="#f4822e" stroke-width="1.7" opacity="0.95"/><path d="M1289.3 300.2Q1305.9 280.0 1332.1 269.9" stroke="#f4822e" stroke-width="2.2" opacity="0.85"/><path d="M1301.8 296.6Q1313.5 283.2 1330.6 275.6" stroke="#f4822e" stroke-width="1.7" opacity="0.98"/><path d="M1295.2 305.4Q1307.1 289.8 1327.4 283.3" stroke="#fa9c40" stroke-width="2.1" opacity="0.64"/></g>
</g>
<path d="M1316.7 260.9C1317.4 255.9 1320.8 250.6 1322.8 248.6C1324.9 246.5 1326.7 248.2 1328.8 248.6C1331.0 249.1 1332.6 250.7 1335.6 251.1C1338.7 251.4 1343.8 251.1 1347.2 250.6C1350.5 250.1 1353.5 249.9 1355.8 248.2C1358.1 246.6 1358.8 243.4 1361.0 240.9C1363.3 238.4 1366.1 234.8 1369.3 233.0C1372.5 231.2 1377.8 229.8 1380.2 230.2C1382.7 230.6 1383.7 232.1 1384.1 235.2C1384.5 238.4 1383.1 244.7 1382.5 249.0C1381.9 253.4 1381.9 258.0 1380.3 261.5C1378.7 265.0 1375.9 267.2 1372.7 270.2C1369.5 273.2 1365.6 277.6 1361.3 279.7C1357.0 281.8 1352.0 281.2 1347.1 282.8C1342.1 284.4 1335.7 287.5 1331.5 289.1C1327.4 290.8 1324.3 294.6 1322.3 292.8C1320.2 291.1 1319.8 283.9 1318.9 278.5C1318.0 273.2 1316.1 265.9 1316.7 260.9Z" fill="#5c1006" filter="url(#j3)" opacity="0.6"/>
<g mask="url(#mj7)" opacity="0.97"><rect x="1307" y="220" width="87" height="83" fill="#701408"/>
<g filter="url(#j1)" fill="none" stroke-linecap="round"><path d="M1372.5 206.9Q1382.9 234.4 1397.2 258.9" stroke="#cc3414" stroke-width="2.1" opacity="0.72"/><path d="M1368.1 210.0Q1377.8 238.2 1394.0 261.4" stroke="#dc481e" stroke-width="2.2" opacity="1.00"/><path d="M1363.6 213.2Q1375.4 240.0 1391.4 263.7" stroke="#cc3414" stroke-width="2.0" opacity="0.90"/><path d="M1360.8 215.4Q1372.1 242.5 1387.4 266.5" stroke="#dc481e" stroke-width="2.1" opacity="0.76"/><path d="M1356.3 218.6Q1367.4 246.1 1385.1 268.5" stroke="#cc3414" stroke-width="1.9" opacity="0.77"/><path d="M1353.8 220.8Q1365.4 247.6 1379.7 272.2" stroke="#dc481e" stroke-width="1.9" opacity="0.95"/><path d="M1345.5 226.5Q1360.6 251.2 1379.3 273.1" stroke="#cc3414" stroke-width="1.6" opacity="0.76"/><path d="M1344.1 227.8Q1356.6 254.2 1373.1 277.5" stroke="#dc481e" stroke-width="2.2" opacity="0.83"/><path d="M1337.2 232.7Q1352.7 257.1 1372.2 278.5" stroke="#cc3414" stroke-width="1.6" opacity="0.76"/><path d="M1334.8 234.5Q1349.7 259.4 1367.8 281.7" stroke="#dc481e" stroke-width="1.8" opacity="0.76"/><path d="M1328.6 239.3Q1346.1 262.0 1366.6 282.6" stroke="#cc3414" stroke-width="1.8" opacity="0.87"/><path d="M1325.5 241.6Q1341.0 265.9 1363.0 285.4" stroke="#dc481e" stroke-width="1.8" opacity="0.87"/><path d="M1323.2 243.3Q1339.4 267.1 1358.9 288.5" stroke="#cc3414" stroke-width="1.5" opacity="0.97"/><path d="M1317.5 248.0Q1335.5 270.1 1358.3 288.5" stroke="#dc481e" stroke-width="2.0" opacity="0.97"/><path d="M1315.1 249.5Q1331.4 273.2 1354.0 292.0" stroke="#cc3414" stroke-width="1.6" opacity="0.85"/><path d="M1309.2 254.4Q1328.7 275.2 1351.1 293.9" stroke="#dc481e" stroke-width="2.2" opacity="0.99"/><path d="M1306.6 256.0Q1324.7 278.2 1345.9 298.1" stroke="#cc3414" stroke-width="2.1" opacity="0.77"/><path d="M1301.7 260.0Q1320.7 281.2 1343.7 299.4" stroke="#dc481e" stroke-width="1.6" opacity="0.77"/><path d="M1299.3 261.7Q1318.3 283.0 1340.3 302.2" stroke="#cc3414" stroke-width="2.0" opacity="0.87"/><path d="M1293.8 266.3Q1313.7 286.5 1337.9 303.4" stroke="#dc481e" stroke-width="1.5" opacity="0.89"/></g>
<use href="#h7" filter="url(#j2)" opacity="0.75"/>
<g filter="url(#j06)" id="h7" fill="none" stroke-linecap="round"><path d="M1374.1 210.4Q1381.3 231.1 1392.4 248.8" stroke="#f4822e" stroke-width="2.1" opacity="0.57"/><path d="M1372.8 219.3Q1375.1 233.0 1384.1 241.8" stroke="#f4822e" stroke-width="2.2" opacity="0.87"/><path d="M1367.8 220.8Q1376.5 242.1 1389.5 260.2" stroke="#f4822e" stroke-width="2.0" opacity="0.93"/><path d="M1365.0 223.5Q1369.8 238.1 1378.6 249.6" stroke="#fa9c40" stroke-width="2.1" opacity="0.81"/><path d="M1351.0 239.5Q1359.8 259.7 1372.7 276.9" stroke="#f4822e" stroke-width="2.2" opacity="0.82"/><path d="M1344.3 242.0Q1354.1 258.8 1367.8 272.6" stroke="#f4822e" stroke-width="1.6" opacity="0.56"/><path d="M1336.0 247.8Q1343.0 258.4 1352.7 266.9" stroke="#fa9c40" stroke-width="1.8" opacity="0.73"/><path d="M1336.6 254.6Q1344.4 269.9 1358.6 280.3" stroke="#fa9c40" stroke-width="1.8" opacity="0.71"/><path d="M1326.4 247.5Q1338.6 266.1 1353.9 282.2" stroke="#fa9c40" stroke-width="1.5" opacity="0.76"/><path d="M1322.7 253.2Q1334.2 268.8 1350.5 280.7" stroke="#f4822e" stroke-width="2.0" opacity="0.62"/><path d="M1325.7 270.0Q1333.1 279.4 1343.5 286.7" stroke="#f4822e" stroke-width="2.2" opacity="0.96"/><path d="M1314.1 264.1Q1327.9 281.7 1344.8 296.9" stroke="#f4822e" stroke-width="2.1" opacity="0.65"/><path d="M1301.0 259.3Q1315.9 276.7 1334.8 291.0" stroke="#f4822e" stroke-width="1.6" opacity="0.89"/><path d="M1308.0 270.2Q1317.5 282.2 1330.0 292.0" stroke="#f4822e" stroke-width="2.0" opacity="0.74"/><path d="M1307.6 277.9Q1316.6 288.9 1329.9 296.7" stroke="#fa9c40" stroke-width="1.5" opacity="0.76"/></g>
</g>
<path d="M1390.5 229.1C1390.7 225.9 1391.3 222.3 1393.1 219.4C1394.9 216.5 1398.1 213.7 1401.6 211.8C1405.0 209.9 1410.1 208.2 1413.9 208.1C1417.7 207.9 1421.7 208.8 1424.6 211.0C1427.6 213.2 1430.3 217.8 1431.5 221.1C1432.7 224.4 1432.5 227.6 1431.9 230.9C1431.4 234.2 1430.0 238.4 1428.1 241.1C1426.2 243.8 1423.6 245.7 1420.6 247.2C1417.5 248.7 1413.3 250.5 1409.9 250.1C1406.5 249.7 1403.1 246.8 1400.1 244.9C1397.2 243.0 1393.9 241.3 1392.3 238.6C1390.7 236.0 1390.4 232.3 1390.5 229.1Z" fill="#560e06" filter="url(#j3)" opacity="0.6"/>
<g mask="url(#mj8)" opacity="0.95"><rect x="1381" y="198" width="61" height="62" fill="#6a1207"/>
<g filter="url(#j1)" fill="none" stroke-linecap="round"><path d="M1385.0 228.4Q1400.4 205.6 1419.3 190.3" stroke="#cc3414" stroke-width="1.9" opacity="0.75"/><path d="M1386.5 232.0Q1403.0 211.1 1421.5 194.6" stroke="#dc481e" stroke-width="1.8" opacity="0.75"/><path d="M1385.0 231.9Q1404.6 214.6 1425.7 200.7" stroke="#cc3414" stroke-width="1.7" opacity="0.98"/><path d="M1386.9 235.5Q1405.0 215.5 1426.6 202.9" stroke="#dc481e" stroke-width="1.8" opacity="0.97"/><path d="M1386.0 235.2Q1406.9 219.6 1430.4 209.5" stroke="#cc3414" stroke-width="1.7" opacity="0.96"/><path d="M1386.5 236.4Q1408.3 222.6 1432.7 214.2" stroke="#dc481e" stroke-width="1.6" opacity="0.93"/><path d="M1387.8 239.2Q1409.2 224.6 1434.2 217.5" stroke="#cc3414" stroke-width="1.7" opacity="0.90"/><path d="M1388.8 241.3Q1410.9 228.0 1436.2 221.8" stroke="#dc481e" stroke-width="1.4" opacity="0.77"/><path d="M1390.2 244.4Q1412.7 232.0 1437.3 224.0" stroke="#cc3414" stroke-width="1.4" opacity="0.81"/><path d="M1391.0 245.7Q1413.6 233.9 1439.6 229.4" stroke="#dc481e" stroke-width="1.5" opacity="0.74"/><path d="M1392.0 247.6Q1415.3 237.6 1441.3 233.4" stroke="#cc3414" stroke-width="1.7" opacity="0.81"/><path d="M1392.7 246.0Q1416.7 240.6 1443.7 241.6" stroke="#dc481e" stroke-width="1.5" opacity="0.97"/><path d="M1394.6 251.1Q1418.7 244.8 1445.3 244.0" stroke="#cc3414" stroke-width="2.0" opacity="0.74"/></g>
<use href="#h8" filter="url(#j2)" opacity="0.75"/>
<g filter="url(#j06)" id="h8" fill="none" stroke-linecap="round"><path d="M1394.9 224.3Q1404.7 214.6 1416.0 208.2" stroke="#f4822e" stroke-width="1.7" opacity="0.57"/><path d="M1388.0 234.6Q1401.2 218.7 1417.9 210.1" stroke="#f4822e" stroke-width="1.8" opacity="0.84"/><path d="M1390.9 232.4Q1408.4 218.8 1428.4 210.6" stroke="#f4822e" stroke-width="1.7" opacity="0.91"/><path d="M1401.3 229.3Q1411.1 221.2 1423.5 218.7" stroke="#f4822e" stroke-width="1.6" opacity="0.92"/><path d="M1396.3 235.2Q1403.8 227.1 1414.9 226.5" stroke="#f4822e" stroke-width="1.7" opacity="0.83"/><path d="M1399.2 240.5Q1413.7 231.5 1430.4 227.0" stroke="#f4822e" stroke-width="1.4" opacity="0.83"/><path d="M1403.1 241.6Q1418.1 232.4 1436.5 230.4" stroke="#fa9c40" stroke-width="1.5" opacity="0.73"/><path d="M1400.7 245.3Q1415.5 240.7 1433.3 242.5" stroke="#f4822e" stroke-width="1.5" opacity="0.58"/><path d="M1402.9 249.9Q1418.8 244.8 1437.1 245.1" stroke="#fa9c40" stroke-width="2.0" opacity="0.92"/></g>
</g>
<path d="M1412.6 180.1C1412.7 179.1 1416.0 183.6 1418.0 184.4C1420.0 185.1 1422.8 184.7 1424.6 184.5C1426.4 184.2 1426.6 182.9 1428.9 182.8C1431.2 182.6 1435.6 183.2 1438.5 183.4C1441.5 183.6 1446.1 182.9 1446.5 183.9C1447.0 184.8 1443.3 187.4 1441.4 189.1C1439.5 190.8 1437.0 192.1 1435.4 194.0C1433.8 195.9 1433.1 199.2 1431.6 200.5C1430.1 201.9 1428.3 202.8 1426.4 202.3C1424.6 201.7 1422.0 199.6 1420.5 197.5C1418.9 195.4 1418.4 192.8 1417.1 189.9C1415.8 187.0 1412.4 181.0 1412.6 180.1Z" fill="#460c06" filter="url(#j3)" opacity="0.6"/>
<g mask="url(#mj9)" opacity="0.70"><rect x="1403" y="170" width="54" height="42" fill="#520c05"/>
<g filter="url(#j1)" fill="none" stroke-linecap="round"><path d="M1400.6 196.7Q1411.4 183.1 1418.6 168.3" stroke="#c02a12" stroke-width="1.4" opacity="0.89"/><path d="M1404.4 198.2Q1414.1 184.1 1421.8 169.3" stroke="#d0361a" stroke-width="1.4" opacity="0.77"/><path d="M1410.3 200.5Q1419.4 186.1 1425.6 170.6" stroke="#c02a12" stroke-width="1.8" opacity="0.80"/><path d="M1416.5 202.9Q1425.2 188.2 1429.2 171.7" stroke="#d0361a" stroke-width="1.7" opacity="0.96"/><path d="M1421.4 204.7Q1428.8 189.5 1433.2 173.2" stroke="#c02a12" stroke-width="1.4" opacity="0.89"/><path d="M1427.5 206.9Q1433.3 191.1 1436.7 174.5" stroke="#d0361a" stroke-width="1.3" opacity="0.71"/><path d="M1431.7 208.4Q1438.6 193.0 1441.1 176.1" stroke="#c02a12" stroke-width="1.3" opacity="0.88"/><path d="M1436.8 210.2Q1443.4 194.8 1445.2 177.6" stroke="#d0361a" stroke-width="1.3" opacity="0.96"/></g>
<use href="#h9" filter="url(#j2)" opacity="0.75"/>
<g filter="url(#j06)" id="h9" fill="none" stroke-linecap="round"><path d="M1412.2 196.6Q1419.9 185.1 1424.7 172.4" stroke="#ee602e" stroke-width="1.8" opacity="0.85"/><path d="M1421.5 204.5Q1427.7 192.3 1431.0 179.0" stroke="#e44a24" stroke-width="1.4" opacity="0.60"/></g>
</g>
<g filter="url(#j15)"><ellipse cx="1426.4" cy="193.3" rx="3.2" ry="3.8" fill="#e8541f" opacity="0.9"/><ellipse cx="1392.3" cy="229.8" rx="2.2" ry="1.6" fill="#ffb860"/><ellipse cx="1289.5" cy="304.2" rx="3.2" ry="1.3" fill="#ffd9a0"/><ellipse cx="1120.3" cy="349.0" rx="2.2" ry="5" transform="rotate(10 1120.3 349)" fill="#ee6a2a" opacity="0.85"/></g>
</g>
<rect x="951" y="42" width="42" height="41" fill="#df512c"/>
<text x="972" y="76.3" font-size="41" text-anchor="middle" font-family="'Liberation Serif', 'DejaVu Serif', serif" font-weight="bold" fill="#fff">b</text>
</svg>
</body></html>
